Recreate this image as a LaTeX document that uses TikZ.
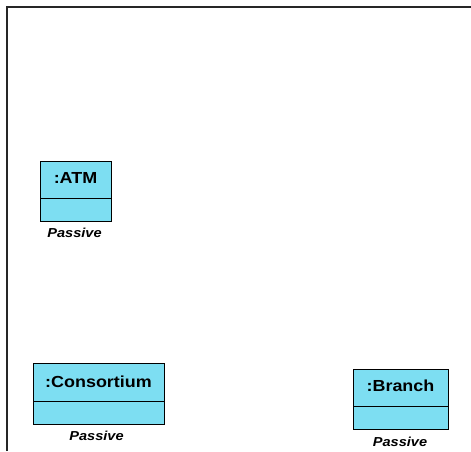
\documentclass[tikz,border=0pt]{standalone}
\usepackage{fontspec}
\setmainfont{Liberation Sans}
\definecolor{objfill}{RGB}{125,222,242}
\tikzset{
  objbox/.style={draw=black, line width=0.9pt, fill=objfill, inner sep=0pt, anchor=north west},
  objname/.style={anchor=base, inner sep=0pt, font=\fontsize{16}{19}\selectfont\bfseries},
  objnote/.style={anchor=base, inner sep=0pt, font=\fontsize{13}{15}\selectfont\bfseries\itshape},
  framebar/.style={draw=black!85, line width=1.6pt}
}
\newcommand{\wide}[1]{\scalebox{1.12}[1]{#1}}
\begin{document}
\begin{tikzpicture}[x=1pt, y=-1pt]
  \useasboundingbox (0,0) rectangle (471,451);
  \fill[white] (0,0) rectangle (471,451);
  % diagram frame
  \coordinate (fbl) at (7,451);
  \coordinate (ftl) at (7,7);
  \coordinate (ftr) at (471,7);
  \draw[framebar] (fbl) -- (ftl) -- (ftr);

  % :ATM object
  \node[objbox, minimum width=71pt, minimum height=60pt] (atm) at (40,161) {};
  \coordinate (atmL) at (40,198.5);
  \coordinate (atmR) at (111,198.5);
  \draw[line width=0.9pt] (atmL) -- (atmR);
  \node[objname] (atmname) at (75.5,183.3) {\wide{:ATM}};
  \node[objnote] (atmnote) at (74.5,237.3) {\wide{Passive}};

  % :Consortium object
  \node[objbox, minimum width=131pt, minimum height=61pt] (cons) at (33,362.5) {};
  \coordinate (consL) at (33,401);
  \coordinate (consR) at (164,401);
  \draw[line width=0.9pt] (consL) -- (consR);
  \node[objname] (consname) at (98.5,387) {\wide{:Consortium}};
  \node[objnote] (consnote) at (96.5,440) {\wide{Passive}};

  % :Branch object
  \node[objbox, minimum width=95pt, minimum height=60pt] (branch) at (353,368.5) {};
  \coordinate (brL) at (353,406.7);
  \coordinate (brR) at (448,406.7);
  \draw[line width=0.9pt] (brL) -- (brR);
  \node[objname] (brname) at (400.5,391.7) {\wide{:Branch}};
  \node[objnote] (brnote) at (400,446) {\wide{Passive}};
\end{tikzpicture}
\end{document}
